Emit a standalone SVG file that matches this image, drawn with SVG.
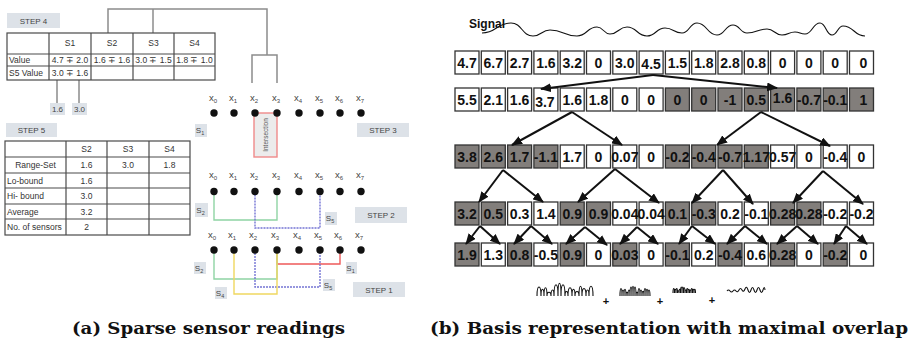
<svg xmlns="http://www.w3.org/2000/svg" width="913" height="342" viewBox="0 0 913 342">
<style>
  .bg{fill:#fff}
  .tag rect{fill:#dde2e8}
  .tag text{font-family:"Liberation Sans",Arial,sans-serif;font-size:8px;fill:#444;text-anchor:middle}
  .tbl rect,.tbl line{stroke:#4a4a4a;stroke-width:1.2;fill:none}
  .tbl text{font-family:"Liberation Sans",Arial,sans-serif;font-size:8.5px;fill:#333}
  .tbl .c{text-anchor:middle}
  .tree{stroke:#8c8c8c;stroke-width:1.5;fill:none}
  .xl{font-family:"Liberation Sans",Arial,sans-serif;font-size:9.5px;fill:#444;text-anchor:middle}
  .dot{fill:#111}
  .wire{fill:none;stroke-width:1.4}
  .box rect{stroke:#333;stroke-width:1.3}
  .box .w{fill:#fff}
  .box .g{fill:#827e7b}
  .box text{font-family:"Liberation Sans",Arial,sans-serif;font-weight:bold;font-size:14px;fill:#111;text-anchor:middle}
  .arr{stroke:#111;stroke-width:2;fill:none;marker-end:url(#ah)}
  .cap{font-family:"DejaVu Serif","Liberation Serif",serif;font-weight:bold;font-size:16px;fill:#111}
  .mini{fill:none;stroke:#111;stroke-width:1.1}
  .plus{font-family:"Liberation Sans",Arial,sans-serif;font-size:11px;font-weight:bold;text-anchor:middle;fill:#111}
</style>
<defs>
  <marker id="ah" markerUnits="userSpaceOnUse" markerWidth="11" markerHeight="9" refX="10" refY="4.5" orient="auto">
    <path d="M0,0 L11,4.5 L0,9 z" fill="#111"/>
  </marker>
</defs>
<rect class="bg" x="0" y="0" width="913" height="342"/>

<!-- ===== (a) sparse sensor readings ===== -->
<g id="step4-tag" class="tag"><rect x="7" y="13" width="53" height="15"/><text x="33.5" y="23.5">STEP 4</text></g>

<g id="tree" class="tree">
  <path d="M108,33 V9 H267 V55"/>
  <path d="M153,33 V9"/>
  <path d="M252,83 V55 H277 V83"/>
  <path d="M57,80 V103 M79,80 V103"/>
</g>

<g id="table-step4" class="tbl">
  <rect x="7" y="33" width="208" height="47"/>
  <line x1="7" y1="54" x2="215" y2="54"/>
  <line x1="7" y1="66" x2="215" y2="66"/>
  <line x1="49" y1="33" x2="49" y2="80"/>
  <line x1="91" y1="33" x2="91" y2="80"/>
  <line x1="133" y1="33" x2="133" y2="80"/>
  <line x1="174" y1="33" x2="174" y2="80"/>
  <text class="c" x="70" y="46">S1</text>
  <text class="c" x="112" y="46">S2</text>
  <text class="c" x="153.5" y="46">S3</text>
  <text class="c" x="194.5" y="46">S4</text>
  <text x="9" y="63">Value</text>
  <text class="c" x="70" y="63">4.7 ∓ 2.0</text>
  <text class="c" x="112" y="63">1.6 ∓ 1.6</text>
  <text class="c" x="153.5" y="63">3.0 ∓ 1.5</text>
  <text class="c" x="194.5" y="63">1.8 ∓ 1.0</text>
  <text x="9" y="76">S5 Value</text>
  <text class="c" x="70" y="76">3.0 ∓ 1.6</text>
</g>

<g id="val-16" class="tag"><rect x="50" y="103" width="15" height="12"/><text x="57.5" y="112">1.6</text></g>
<g id="val-30" class="tag"><rect x="72" y="103" width="15" height="12"/><text x="79.5" y="112">3.0</text></g>

<g id="step5-tag" class="tag"><rect x="6" y="123" width="51" height="14"/><text x="31.5" y="133">STEP 5</text></g>

<g id="table-step5" class="tbl">
  <rect x="5" y="141" width="185" height="94"/>
  <line x1="5" y1="157" x2="190" y2="157"/>
  <line x1="5" y1="173" x2="190" y2="173"/>
  <line x1="5" y1="188" x2="190" y2="188"/>
  <line x1="5" y1="204" x2="190" y2="204"/>
  <line x1="5" y1="219" x2="190" y2="219"/>
  <line x1="66" y1="141" x2="66" y2="235"/>
  <line x1="107" y1="141" x2="107" y2="235"/>
  <line x1="149" y1="141" x2="149" y2="235"/>
  <text class="c" x="86.5" y="152">S2</text>
  <text class="c" x="128" y="152">S3</text>
  <text class="c" x="169.5" y="152">S4</text>
  <text class="c" x="35.5" y="168">Range-Set</text>
  <text class="c" x="86.5" y="168">1.6</text>
  <text class="c" x="128" y="168">3.0</text>
  <text class="c" x="169.5" y="168">1.8</text>
  <text x="7" y="184">Lo-bound</text>
  <text class="c" x="86.5" y="184">1.6</text>
  <text x="7" y="199">Hi- bound</text>
  <text class="c" x="86.5" y="199">3.0</text>
  <text x="7" y="215">Average</text>
  <text class="c" x="86.5" y="215">3.2</text>
  <text x="7" y="230">No. of sensors</text>
  <text class="c" x="86.5" y="230">2</text>
</g>

<!-- step 3 -->
<g id="intersection">
  <rect x="254" y="113" width="23" height="44" fill="#ececec" stroke="#f08a8a" stroke-width="1.4"/>
  <text transform="translate(268,135) rotate(-90)" font-family="Liberation Sans, Arial, sans-serif" font-size="6.5" fill="#555" text-anchor="middle">Intersection</text>
</g>
<g id="row-step3">
  <text class="xl" x="213" y="101">x<tspan dy="2" font-size="6">0</tspan></text>
  <text class="xl" x="233" y="101">x<tspan dy="2" font-size="6">1</tspan></text>
  <text class="xl" x="254" y="101">x<tspan dy="2" font-size="6">2</tspan></text>
  <text class="xl" x="276" y="101">x<tspan dy="2" font-size="6">3</tspan></text>
  <text class="xl" x="298" y="101">x<tspan dy="2" font-size="6">4</tspan></text>
  <text class="xl" x="319" y="101">x<tspan dy="2" font-size="6">5</tspan></text>
  <text class="xl" x="339" y="101">x<tspan dy="2" font-size="6">6</tspan></text>
  <text class="xl" x="360" y="101">x<tspan dy="2" font-size="6">7</tspan></text>
  <circle class="dot" cx="214" cy="113" r="3.7"/><circle class="dot" cx="234" cy="113" r="3.7"/>
  <circle class="dot" cx="255" cy="113" r="3.7"/><circle class="dot" cx="277" cy="113" r="3.7"/>
  <circle class="dot" cx="299" cy="113" r="3.7"/><circle class="dot" cx="320" cy="113" r="3.7"/>
  <circle class="dot" cx="340" cy="113" r="3.7"/><circle class="dot" cx="361" cy="113" r="3.7"/>
</g>
<g id="s1-step3" class="tag"><rect x="195" y="124" width="12" height="13"/><text x="200" y="133">S<tspan dy="2" font-size="5.5">1</tspan></text></g>
<g id="step3-tag" class="tag"><rect x="357" y="123" width="52" height="14"/><text x="383" y="133">STEP 3</text></g>

<!-- step 2 -->
<g id="wires-step2">
  <path class="wire" stroke="#8fd4a4" d="M214,191.5 V220 H277 V191.5"/>
  <path class="wire" stroke="#7474d4" stroke-dasharray="2 1" d="M255,191.5 V228 H320 V191.5"/>
</g>
<g id="row-step2">
  <text class="xl" x="213" y="178">x<tspan dy="2" font-size="6">0</tspan></text>
  <text class="xl" x="233" y="178">x<tspan dy="2" font-size="6">1</tspan></text>
  <text class="xl" x="254" y="178">x<tspan dy="2" font-size="6">2</tspan></text>
  <text class="xl" x="276" y="178">x<tspan dy="2" font-size="6">3</tspan></text>
  <text class="xl" x="298" y="178">x<tspan dy="2" font-size="6">4</tspan></text>
  <text class="xl" x="319" y="178">x<tspan dy="2" font-size="6">5</tspan></text>
  <text class="xl" x="339" y="178">x<tspan dy="2" font-size="6">6</tspan></text>
  <text class="xl" x="360" y="178">x<tspan dy="2" font-size="6">7</tspan></text>
  <circle class="dot" cx="214" cy="191.5" r="3.7"/><circle class="dot" cx="234" cy="191.5" r="3.7"/>
  <circle class="dot" cx="255" cy="191.5" r="3.7"/><circle class="dot" cx="277" cy="191.5" r="3.7"/>
  <circle class="dot" cx="299" cy="191.5" r="3.7"/><circle class="dot" cx="320" cy="191.5" r="3.7"/>
  <circle class="dot" cx="340" cy="191.5" r="3.7"/><circle class="dot" cx="361" cy="191.5" r="3.7"/>
</g>
<g id="s2-step2" class="tag"><rect x="195" y="203" width="13" height="14"/><text x="200.5" y="212.5">S<tspan dy="2" font-size="5.5">2</tspan></text></g>
<g id="s5-step2" class="tag"><rect x="325" y="212" width="12" height="13"/><text x="330" y="221">S<tspan dy="2" font-size="5.5">5</tspan></text></g>
<g id="step2-tag" class="tag"><rect x="355" y="207" width="52" height="16"/><text x="381" y="218">STEP 2</text></g>

<!-- step 1 -->
<g id="wires-step1">
  <path class="wire" stroke="#ee5a5a" d="M277,250 V264 H340 V250"/>
  <path class="wire" stroke="#8fd4a4" d="M214,250 V279 H277 V250"/>
  <path class="wire" stroke="#7474d4" stroke-dasharray="2 1" d="M255,250 V287 H320 V250"/>
  <path class="wire" stroke="#f0d860" d="M234,250 V294 H277 V250"/>
</g>
<g id="row-step1">
  <text class="xl" x="212" y="238">x<tspan dy="2" font-size="6">0</tspan></text>
  <text class="xl" x="232" y="238">x<tspan dy="2" font-size="6">1</tspan></text>
  <text class="xl" x="253" y="238">x<tspan dy="2" font-size="6">2</tspan></text>
  <text class="xl" x="275" y="238">x<tspan dy="2" font-size="6">3</tspan></text>
  <text class="xl" x="297" y="238">x<tspan dy="2" font-size="6">4</tspan></text>
  <text class="xl" x="318" y="238">x<tspan dy="2" font-size="6">5</tspan></text>
  <text class="xl" x="338" y="238">x<tspan dy="2" font-size="6">6</tspan></text>
  <text class="xl" x="359" y="238">x<tspan dy="2" font-size="6">7</tspan></text>
  <circle class="dot" cx="214" cy="250" r="3.7"/><circle class="dot" cx="234" cy="250" r="3.7"/>
  <circle class="dot" cx="255" cy="250" r="3.7"/><circle class="dot" cx="277" cy="250" r="3.7"/>
  <circle class="dot" cx="299" cy="250" r="3.7"/><circle class="dot" cx="320" cy="250" r="3.7"/>
  <circle class="dot" cx="340" cy="250" r="3.7"/><circle class="dot" cx="361" cy="250" r="3.7"/>
</g>
<g id="s2-step1" class="tag"><rect x="194" y="262" width="12" height="12"/><text x="199" y="270.5">S<tspan dy="2" font-size="5.5">2</tspan></text></g>
<g id="s4-step1" class="tag"><rect x="215" y="287" width="12" height="12"/><text x="220" y="295.5">S<tspan dy="2" font-size="5.5">4</tspan></text></g>
<g id="s5-step1" class="tag"><rect x="323" y="279" width="12" height="12"/><text x="328" y="287.5">S<tspan dy="2" font-size="5.5">5</tspan></text></g>
<g id="s1-step1" class="tag"><rect x="346" y="262" width="11" height="12"/><text x="350.5" y="270.5">S<tspan dy="2" font-size="5.5">1</tspan></text></g>
<g id="step1-tag" class="tag"><rect x="353" y="282" width="52" height="15"/><text x="379" y="292.5">STEP 1</text></g>

<text class="cap" x="72" y="334" textLength="273" lengthAdjust="spacingAndGlyphs">(a) Sparse sensor readings</text>

<!-- ===== (b) basis representation ===== -->
<g id="signal">
  <text x="469" y="28" font-family="Liberation Sans, Arial, sans-serif" font-weight="bold" font-size="12" fill="#111">Signal</text>
  <path fill="none" stroke="#111" stroke-width="1.1" d="M482,33 C496.5,33 496.5,23 511,23 C522,23 522,36 533,36 C541.5,36 541.5,30 550,30 C563.5,30 563.5,36 577,36 C587,36 587,27 597,27 C603.5,27 603.5,34 610,34 C618.5,34 618.5,27 627,27 C637,27 637,36 647,36 C656,36 656,28 665,28 C673.5,28 673.5,33 682,33 C689.5,33 689.5,23 697,23 C707,23 707,35 717,35 C725,35 725,25 733,25 C740,25 740,33 747,33 C757,33 757,29 767,29 C774.5,29 774.5,35 782,35 C788.5,35 788.5,32 795,32 C800,32 800,34 805,34 C812.5,34 812.5,23 820,23 C826,23 826,35 832,35 C837.5,35 837.5,26 843,26 C854,26 854,36 865,36"/>
</g>

<!-- level 0: raw samples -->
<g id="level0" class="box">
  <g id="a0" transform="translate(455,51)"><rect class="w" width="24" height="23"/><text x="12" y="17">4.7</text></g>
  <g id="a1" transform="translate(481.3,51)"><rect class="w" width="24" height="23"/><text x="12" y="17">6.7</text></g>
  <g id="a2" transform="translate(507.6,51)"><rect class="w" width="24" height="23"/><text x="12" y="17">2.7</text></g>
  <g id="a3" transform="translate(533.9,51)"><rect class="w" width="24" height="23"/><text x="12" y="17">1.6</text></g>
  <g id="a4" transform="translate(560.2,51)"><rect class="w" width="24" height="23"/><text x="12" y="17">3.2</text></g>
  <g id="a5" transform="translate(586.5,51)"><rect class="w" width="24" height="23"/><text x="12" y="17">0</text></g>
  <g id="a6" transform="translate(612.8,51)"><rect class="w" width="24" height="23"/><text x="12" y="17">3.0</text></g>
  <g id="a7" transform="translate(639.1,51)"><rect class="w" width="24" height="23"/><text x="12" y="18">4.5</text></g>
  <g id="a8" transform="translate(665.4,51)"><rect class="w" width="24" height="23"/><text x="12" y="17">1.5</text></g>
  <g id="a9" transform="translate(691.7,51)"><rect class="w" width="24" height="23"/><text x="12" y="17">1.8</text></g>
  <g id="a10" transform="translate(718,51)"><rect class="w" width="24" height="23"/><text x="12" y="17">2.8</text></g>
  <g id="a11" transform="translate(744.3,51)"><rect class="w" width="24" height="23"/><text x="12" y="17">0.8</text></g>
  <g id="a12" transform="translate(770.6,51)"><rect class="w" width="24" height="23"/><text x="12" y="17">0</text></g>
  <g id="a13" transform="translate(796.9,51)"><rect class="w" width="24" height="23"/><text x="12" y="17">0</text></g>
  <g id="a14" transform="translate(823.2,51)"><rect class="w" width="24" height="23"/><text x="12" y="17">0</text></g>
  <g id="a15" transform="translate(849.5,51)"><rect class="w" width="24" height="23"/><text x="14" y="17">0</text></g>
</g>

<!-- level 1 -->
<g id="level1" class="box">
  <g id="b0" transform="translate(455,88)"><rect class="w" width="24" height="23"/><text x="12" y="17">5.5</text></g>
  <g id="b1" transform="translate(481.3,88)"><rect class="w" width="24" height="23"/><text x="12" y="17">2.1</text></g>
  <g id="b2" transform="translate(507.6,88)"><rect class="w" width="24" height="23"/><text x="12" y="17">1.6</text></g>
  <g id="b3" transform="translate(533.9,88)"><rect class="w" width="24" height="23"/><text x="11" y="19">3.7</text></g>
  <g id="b4" transform="translate(560.2,88)"><rect class="w" width="24" height="23"/><text x="12" y="17">1.6</text></g>
  <g id="b5" transform="translate(586.5,88)"><rect class="w" width="24" height="23"/><text x="12" y="17">1.8</text></g>
  <g id="b6" transform="translate(612.8,88)"><rect class="w" width="24" height="23"/><text x="12" y="17">0</text></g>
  <g id="b7" transform="translate(639.1,88)"><rect class="w" width="24" height="23"/><text x="12" y="17">0</text></g>
  <g id="b8" transform="translate(665.4,88)"><rect class="g" width="24" height="23"/><text x="12" y="17">0</text></g>
  <g id="b9" transform="translate(691.7,88)"><rect class="g" width="24" height="23"/><text x="12" y="17">0</text></g>
  <g id="b10" transform="translate(718,88)"><rect class="g" width="24" height="23"/><text x="12" y="17">-1</text></g>
  <g id="b11" transform="translate(744.3,88)"><rect class="g" width="24" height="23"/><text x="12" y="17">0.5</text></g>
  <g id="b12" transform="translate(770.6,88)"><rect class="g" width="24" height="23"/><text x="12" y="15">1.6</text></g>
  <g id="b13" transform="translate(796.9,88)"><rect class="g" width="24" height="23"/><text x="12" y="17">-0.7</text></g>
  <g id="b14" transform="translate(823.2,88)"><rect class="g" width="24" height="23"/><text x="12" y="17">-0.1</text></g>
  <g id="b15" transform="translate(849.5,88)"><rect class="g" width="24" height="23"/><text x="14" y="17">1</text></g>
</g>

<!-- level 2 -->
<g id="level2" class="box">
  <g id="c0" transform="translate(455,145)"><rect class="g" width="24" height="23"/><text x="12" y="17">3.8</text></g>
  <g id="c1" transform="translate(481.3,145)"><rect class="g" width="24" height="23"/><text x="12" y="17">2.6</text></g>
  <g id="c2" transform="translate(507.6,145)"><rect class="g" width="24" height="23"/><text x="12" y="17">1.7</text></g>
  <g id="c3" transform="translate(533.9,145)"><rect class="g" width="24" height="23"/><text x="12" y="17">-1.1</text></g>
  <g id="c4" transform="translate(560.2,145)"><rect class="w" width="24" height="23"/><text x="12" y="17">1.7</text></g>
  <g id="c5" transform="translate(586.5,145)"><rect class="w" width="24" height="23"/><text x="12" y="17">0</text></g>
  <g id="c6" transform="translate(612.8,145)"><rect class="w" width="24" height="23"/><text x="12" y="17">0.07</text></g>
  <g id="c7" transform="translate(639.1,145)"><rect class="w" width="24" height="23"/><text x="12" y="17">0</text></g>
  <g id="c8" transform="translate(665.4,145)"><rect class="g" width="24" height="23"/><text x="12" y="17">-0.2</text></g>
  <g id="c9" transform="translate(691.7,145)"><rect class="g" width="24" height="23"/><text x="12" y="17">-0.4</text></g>
  <g id="c10" transform="translate(718,145)"><rect class="g" width="24" height="23"/><text x="12" y="17">-0.7</text></g>
  <g id="c11" transform="translate(744.3,145)"><rect class="g" width="24" height="23"/><text x="12" y="17">1.17</text></g>
  <g id="c12" transform="translate(770.6,145)"><rect class="w" width="24" height="23"/><text x="12" y="17">0.57</text></g>
  <g id="c13" transform="translate(796.9,145)"><rect class="w" width="24" height="23"/><text x="12" y="17">0</text></g>
  <g id="c14" transform="translate(823.2,145)"><rect class="w" width="24" height="23"/><text x="12" y="17">-0.4</text></g>
  <g id="c15" transform="translate(849.5,145)"><rect class="w" width="24" height="23"/><text x="12" y="17">0</text></g>
</g>

<!-- level 3 -->
<g id="level3" class="box">
  <g id="d0" transform="translate(455,202)"><rect class="g" width="24" height="23"/><text x="12" y="17">3.2</text></g>
  <g id="d1" transform="translate(481.3,202)"><rect class="g" width="24" height="23"/><text x="12" y="17">0.5</text></g>
  <g id="d2" transform="translate(507.6,202)"><rect class="w" width="24" height="23"/><text x="12" y="17">0.3</text></g>
  <g id="d3" transform="translate(533.9,202)"><rect class="w" width="24" height="23"/><text x="12" y="17">1.4</text></g>
  <g id="d4" transform="translate(560.2,202)"><rect class="g" width="24" height="23"/><text x="12" y="17">0.9</text></g>
  <g id="d5" transform="translate(586.5,202)"><rect class="g" width="24" height="23"/><text x="12" y="17">0.9</text></g>
  <g id="d6" transform="translate(612.8,202)"><rect class="w" width="24" height="23"/><text x="12" y="17">0.04</text></g>
  <g id="d7" transform="translate(639.1,202)"><rect class="w" width="24" height="23"/><text x="12" y="17">0.04</text></g>
  <g id="d8" transform="translate(665.4,202)"><rect class="g" width="24" height="23"/><text x="12" y="17">0.1</text></g>
  <g id="d9" transform="translate(691.7,202)"><rect class="g" width="24" height="23"/><text x="12" y="17">-0.3</text></g>
  <g id="d10" transform="translate(718,202)"><rect class="w" width="24" height="23"/><text x="12" y="17">0.2</text></g>
  <g id="d11" transform="translate(744.3,202)"><rect class="w" width="24" height="23"/><text x="12" y="17">-0.1</text></g>
  <g id="d12" transform="translate(770.6,202)"><rect class="g" width="24" height="23"/><text x="12" y="17">0.28</text></g>
  <g id="d13" transform="translate(796.9,202)"><rect class="g" width="24" height="23"/><text x="12" y="17">0.28</text></g>
  <g id="d14" transform="translate(823.2,202)"><rect class="w" width="24" height="23"/><text x="12" y="17">-0.2</text></g>
  <g id="d15" transform="translate(849.5,202)"><rect class="w" width="24" height="23"/><text x="12" y="17">-0.2</text></g>
</g>

<!-- level 4 -->
<g id="level4" class="box">
  <g id="e0" transform="translate(455,243)"><rect class="g" width="24" height="23"/><text x="12" y="17">1.9</text></g>
  <g id="e1" transform="translate(481.3,243)"><rect class="w" width="24" height="23"/><text x="12" y="17">1.3</text></g>
  <g id="e2" transform="translate(507.6,243)"><rect class="g" width="24" height="23"/><text x="12" y="17">0.8</text></g>
  <g id="e3" transform="translate(533.9,243)"><rect class="w" width="24" height="23"/><text x="12" y="17">-0.5</text></g>
  <g id="e4" transform="translate(560.2,243)"><rect class="g" width="24" height="23"/><text x="12" y="17">0.9</text></g>
  <g id="e5" transform="translate(586.5,243)"><rect class="w" width="24" height="23"/><text x="12" y="17">0</text></g>
  <g id="e6" transform="translate(612.8,243)"><rect class="g" width="24" height="23"/><text x="12" y="17">0.03</text></g>
  <g id="e7" transform="translate(639.1,243)"><rect class="w" width="24" height="23"/><text x="12" y="17">0</text></g>
  <g id="e8" transform="translate(665.4,243)"><rect class="g" width="24" height="23"/><text x="12" y="17">-0.1</text></g>
  <g id="e9" transform="translate(691.7,243)"><rect class="w" width="24" height="23"/><text x="12" y="17">0.2</text></g>
  <g id="e10" transform="translate(718,243)"><rect class="g" width="24" height="23"/><text x="12" y="17">-0.4</text></g>
  <g id="e11" transform="translate(744.3,243)"><rect class="w" width="24" height="23"/><text x="12" y="17">0.6</text></g>
  <g id="e12" transform="translate(770.6,243)"><rect class="g" width="24" height="23"/><text x="12" y="17">0.28</text></g>
  <g id="e13" transform="translate(796.9,243)"><rect class="w" width="24" height="23"/><text x="12" y="17">0</text></g>
  <g id="e14" transform="translate(823.2,243)"><rect class="g" width="24" height="23"/><text x="12" y="17">-0.2</text></g>
  <g id="e15" transform="translate(849.5,243)"><rect class="w" width="24" height="23"/><text x="14" y="17">0</text></g>
</g>

<!-- decomposition arrows -->
<g id="connectors">
  <path class="arr" d="M653,75 L541,89"/>
  <path class="arr" d="M653,75 L777,88"/>

  <path class="arr" d="M572,112 L512,145"/>
  <path class="arr" d="M572,112 L622,145"/>
  <path class="arr" d="M761,112 L717,145"/>
  <path class="arr" d="M761,112 L830,146"/>

  <path class="arr" d="M503,170 L479,202"/>
  <path class="arr" d="M503,170 L543,202"/>
  <path class="arr" d="M615,169 L578,202"/>
  <path class="arr" d="M615,169 L659,203"/>
  <path class="arr" d="M723,170 L692,203"/>
  <path class="arr" d="M723,170 L753,204"/>
  <path class="arr" d="M823,171 L793,203"/>
  <path class="arr" d="M823,171 L863,204"/>

  <path class="arr" d="M480,226 L466,244"/>
  <path class="arr" d="M480,226 L500,244"/>
  <path class="arr" d="M531,226 L514,244"/>
  <path class="arr" d="M531,226 L552,244"/>
  <path class="arr" d="M585,227 L566,244"/>
  <path class="arr" d="M585,227 L607,245"/>
  <path class="arr" d="M637,227 L620,244"/>
  <path class="arr" d="M637,227 L658,244"/>
  <path class="arr" d="M692,226 L679,244"/>
  <path class="arr" d="M692,226 L715,244"/>
  <path class="arr" d="M745,226 L727,244"/>
  <path class="arr" d="M745,226 L767,244"/>
  <path class="arr" d="M797,226 L777,244"/>
  <path class="arr" d="M797,226 L818,244"/>
  <path class="arr" d="M846,226 L834,244"/>
  <path class="arr" d="M846,226 L867,244"/>
</g>

<!-- reconstructed components -->
<g id="components">
  <path class="mini" d="M537,296 c0,-12 4,-12 4,0 c0,-9 3,-9 3,0 c0,-11 3,-11 3,0 c0,-5 4,-5 4,0 c0,-8 3,-8 3,0 c0,-15 4,-15 4,0 c0,-17 3,-17 3,0 c0,-15 4,-15 4,0 c0,-6 3,-6 3,0 c0,-11 4,-11 4,0 c0,-9 3,-9 3,0 c0,-6 4,-6 4,0 c0,-13 3,-13 3,0 c0,-10 4,-10 4,0 c0,-8 3,-8 3,0 c0,-13 4,-13 4,0"/>
  <text class="plus" x="606" y="305">+</text>
  <path class="mini" d="M620,296 c0,-10 2,-10 2,0 c0,-8 2,-8 2,0 c0,-9 2,-9 2,0 c0,-5 2,-5 2,0 c0,-8 2,-8 2,0 c0,-12 2,-12 2,0 c0,-13 2,-13 2,0 c0,-12 2,-12 2,0 c0,-5 2,-5 2,0 c0,-10 2,-10 2,0 c0,-8 2,-8 2,0 c0,-6 2,-6 2,0 c0,-10 2,-10 2,0 c0,-9 2,-9 2,0 c0,-8 2,-8 2,0"/>
  <text class="plus" x="660" y="305">+</text>
  <path class="mini" d="M673,293 c0,-6 1.5,-6 1.5,0 c0,-5 1.5,-5 1.5,0 c0,-6 1.5,-6 1.5,0 c0,-3 1.5,-3 1.5,0 c0,-5 1.5,-5 1.5,0 c0,-8 1.5,-8 1.5,0 c0,-8 1.5,-8 1.5,0 c0,-7 1.5,-7 1.5,0 c0,-4 1.5,-4 1.5,0 c0,-6 1.5,-6 1.5,0 c0,-5 1.5,-5 1.5,0 c0,-4 1.5,-4 1.5,0 c0,-6 1.5,-6 1.5,0 c0,-5 1.5,-5 1.5,0 c0,-5 1.5,-5 1.5,0"/>
  <text class="plus" x="712" y="304">+</text>
  <path class="mini" stroke-width="0.9" d="M727,291 q1.5,-2 3,0 t3,0 t3,0 t3,-1 t3,0 t3,-1 t3,1 t3,0 t3,0 t3,0 t3,0 t3,0 t2,0"/>
</g>

<text class="cap" x="430" y="334" textLength="478" lengthAdjust="spacingAndGlyphs">(b) Basis representation with maximal overlap</text>
</svg>
